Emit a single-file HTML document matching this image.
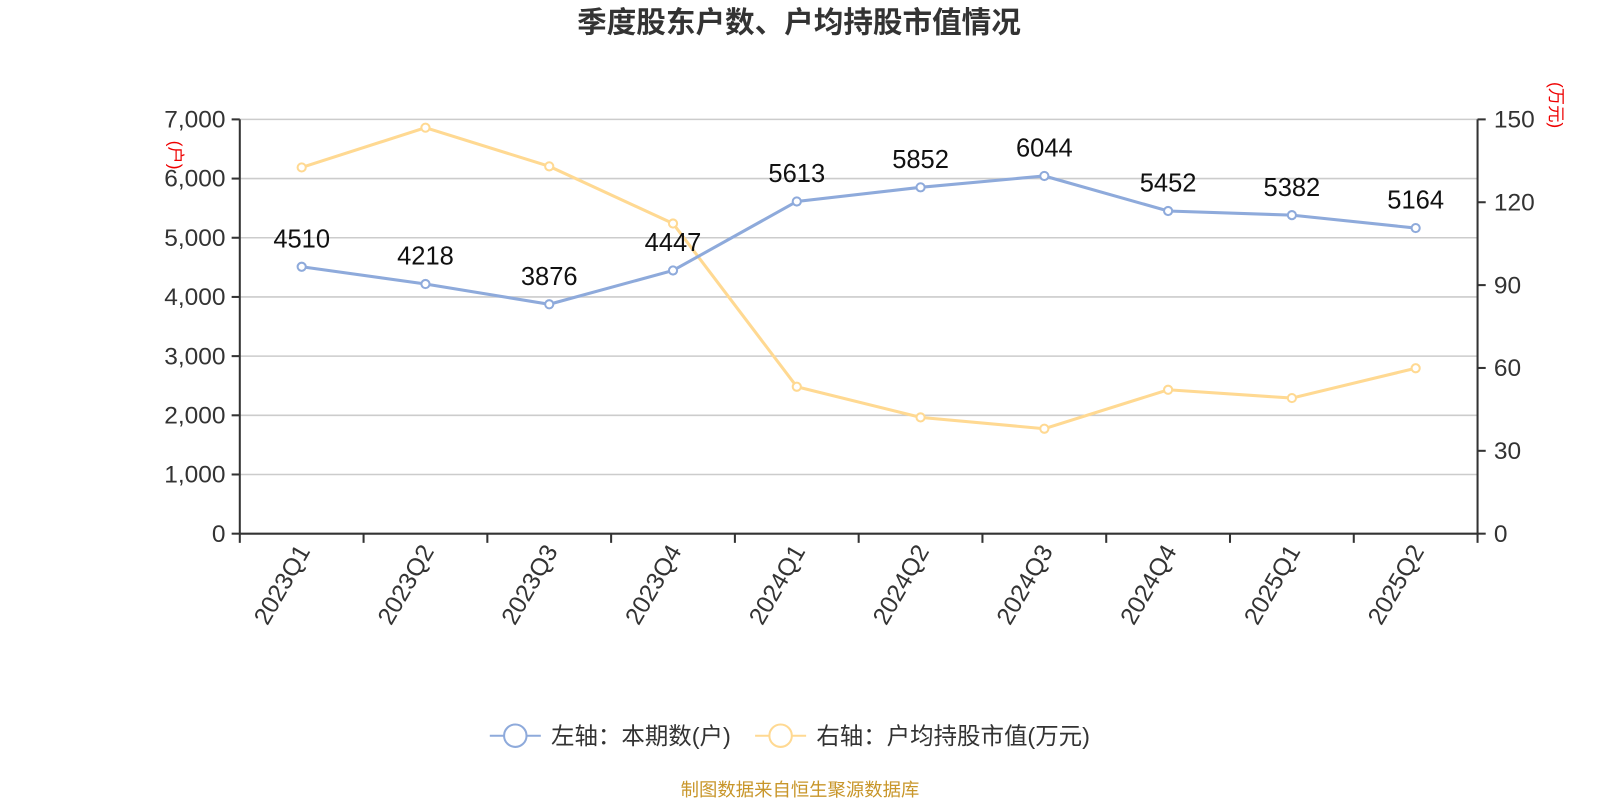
<!DOCTYPE html>
<html><head><meta charset="utf-8">
<style>
body{margin:0;background:#fff;}
svg text{font-family:"Liberation Sans","Noto Sans CJK SC",sans-serif;}
</style></head>
<body>
<svg id="chart" width="1600" height="800" viewBox="0 0 1568 784" xmlns="http://www.w3.org/2000/svg">
<text x="783" y="32" text-anchor="middle" font-size="29" font-weight="bold" fill="#333">季度股东户数、户均持股市值情况</text>
<g id="grid"></g><g id="axes"></g><g id="series"></g>
<text transform="translate(166,152) rotate(90)" text-anchor="middle" font-size="17" fill="#e00">(户)</text>
<text transform="translate(1519,103) rotate(90)" text-anchor="middle" font-size="17" fill="#e00">(万元)</text>
<g>
<g>
<line x1="480" y1="721" x2="530" y2="721" stroke="#8eaadb" stroke-width="2"/>
<circle cx="505" cy="721" r="11" fill="#fff" stroke="#8eaadb" stroke-width="2"/>
<text x="540" y="729" font-size="23" fill="#333">左轴：本期数(户)</text></g>
<g>
<line x1="740" y1="721" x2="790" y2="721" stroke="#ffd992" stroke-width="2"/>
<circle cx="765" cy="721" r="11" fill="#fff" stroke="#ffd992" stroke-width="2"/>
<text x="800" y="729" font-size="23" fill="#333">右轴：户均持股市值(万元)</text></g>
</g>
<text x="784" y="780" text-anchor="middle" font-size="18" fill="#c8962a">制图数据来自恒生聚源数据库</text>
</svg>
<script>
const categories=["2023Q1","2023Q2","2023Q3","2023Q4","2024Q1","2024Q2","2024Q3","2024Q4","2025Q1","2025Q2"];
const holders=[4510,4218,3876,4447,5613,5852,6044,5452,5382,5164];
const avgValue=[132.6,147,133,112.3,53.2,42.1,38,52.1,49.1,59.9];
const leftTicks=[0,1000,2000,3000,4000,5000,6000,7000];
const rightTicks=[0,30,60,90,120,150];
const NS="http://www.w3.org/2000/svg";
const X0=235,X1=1448,Y0=523,Y1=117;
const bw=(X1-X0)/categories.length;
const xc=i=>X0+bw*(i+0.5);
const yl=v=>Y0-(v/7000)*(Y0-Y1);
const yr=v=>Y0-(v/150)*(Y0-Y1);
function mk(tag,attrs,parent,txt){const e=document.createElementNS(NS,tag);for(const k in attrs)e.setAttribute(k,attrs[k]);if(txt!==undefined)e.textContent=txt;document.getElementById(parent).appendChild(e);return e;}
const fmt=v=>v.toLocaleString('en-US');
leftTicks.forEach(t=>{const y=yl(t);
 if(t>0){const g=mk('line',{x1:X0,x2:X1,y1:y,y2:y,stroke:'#ccc','stroke-width':1.5},'grid');}
 mk('line',{x1:X0-8,x2:X0,y1:y,y2:y,stroke:'#333','stroke-width':2},'axes');
 const l=mk('text',{x:X0-14,y:y+8,'text-anchor':'end','font-size':24,fill:'#333'},'axes',fmt(t));
 });
rightTicks.forEach(t=>{const y=yr(t);
 mk('line',{x1:X1,x2:X1+8,y1:y,y2:y,stroke:'#333','stroke-width':2},'axes');
 const l=mk('text',{x:X1+16,y:y+8,'font-size':24,fill:'#333'},'axes',t);
 });
mk('line',{x1:X0,x2:X0,y1:Y1,y2:Y0,stroke:'#333','stroke-width':2},'axes');
mk('line',{x1:X1,x2:X1,y1:Y1,y2:Y0,stroke:'#333','stroke-width':2},'axes');
mk('line',{x1:X0,x2:X1,y1:Y0,y2:Y0,stroke:'#333','stroke-width':2},'axes');
for(let i=0;i<=categories.length;i++){const x=X0+bw*i;mk('line',{x1:x,x2:x,y1:Y0,y2:Y0+9,stroke:'#333','stroke-width':2},'axes');}
categories.forEach((c,i)=>{const x=xc(i);
 const l=mk('text',{transform:`translate(${x+9},${Y0+17}) rotate(-60)`,'text-anchor':'end','font-size':24,fill:'#333'},'axes',c);
 });
function line(vals,yf,color,name){
 const p=mk('polyline',{points:vals.map((v,i)=>xc(i)+','+yf(v)).join(' '),fill:'none',stroke:color,'stroke-width':3},'series');
 
 vals.forEach((v,i)=>{const c=mk('circle',{cx:xc(i),cy:yf(v),r:4,fill:'#fff',stroke:color,'stroke-width':2},'series');
  });
}
line(avgValue,yr,'#ffd992','avg-value');
line(holders,yl,'#8eaadb','holders');
holders.forEach((v,i)=>{const l=mk('text',{x:xc(i),y:yl(v)-19,'text-anchor':'middle','font-size':25,fill:'#111'},'series',v);
 });
</script>
</body></html>
